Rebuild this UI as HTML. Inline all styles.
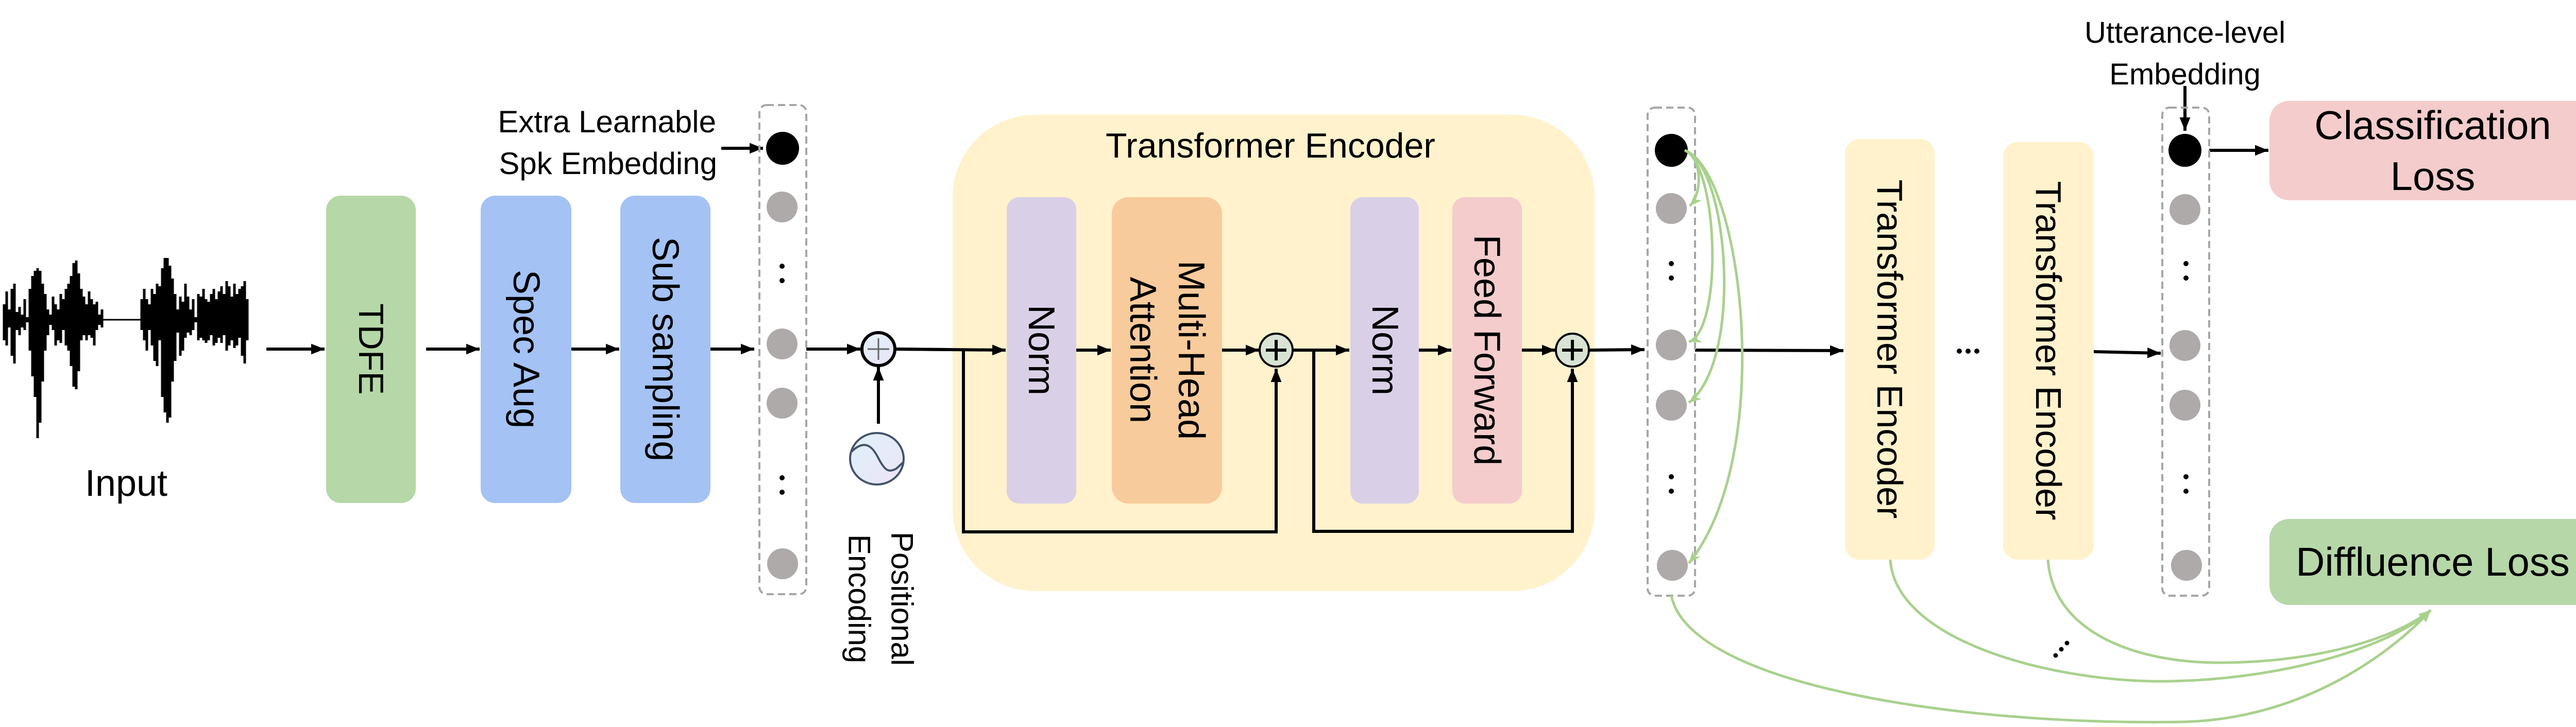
<!DOCTYPE html>
<html><head><meta charset="utf-8"><style>
html,body{margin:0;padding:0;background:#fff;}
svg{display:block;}
text{font-family:"Liberation Sans",sans-serif;fill:#000;}
</style></head><body>
<svg width="5038" height="1412" viewBox="0 0 5038 1412" xmlns="http://www.w3.org/2000/svg">
<defs>
<marker id="ah" markerWidth="10" markerHeight="10" refX="9" refY="5" orient="auto" markerUnits="userSpaceOnUse" viewBox="0 0 10 10" style="overflow:visible">
</marker>
<marker id="a" viewBox="0 0 10 10" refX="10" refY="5" markerWidth="26" markerHeight="26" markerUnits="userSpaceOnUse" orient="auto"><path d="M0 1 L10 5 L0 9 z" fill="#000"/></marker>
<marker id="g" viewBox="0 0 10 10" refX="10" refY="5" markerWidth="24" markerHeight="24" markerUnits="userSpaceOnUse" orient="auto"><path d="M0 1 L10 5 L0 9 L3 5 z" fill="#a9d18e"/></marker>
<linearGradient id="pg" x1="0" y1="0" x2="1" y2="1"><stop offset="0" stop-color="#dff2fb"/><stop offset="1" stop-color="#ece3f7"/></linearGradient>
</defs>

<!-- waveform -->
<line x1="6" y1="621" x2="482" y2="621" stroke="#000" stroke-width="3"/>
<path stroke="#000" stroke-width="5" fill="none" d="
M8 591V661 M13 566V671 M18 601V636 M23 561V691 M28 551V706 M33 606V641 M38 596V651 M43 611V636 M48 581V641 M53 616V626
M58 561V681 M63 536V731 M68 526V771 M73 521V851 M78 526V821 M83 551V741 M88 571V681 M93 601V651 M98 611V631
M103 576V641 M108 591V671 M113 601V661 M118 571V666 M123 581V641 M128 561V671 M133 551V681 M138 536V711 M143 511V751 M148 506V756 M153 531V721 M158 561V661 M163 576V651 M168 591V661 M173 566V651 M178 581V656 M183 591V671 M188 586V641 M193 611V631 M198 601V636
M275 581V641 M280 561V661 M285 581V681 M290 591V641 M295 561V671 M300 571V701 M305 551V711 M310 556V661 M315 521V771 M320 501V801 M325 501V821 M330 516V811 M335 541V741 M340 571V701 M345 601V646 M350 576V691 M355 586V681 M360 551V656 M365 576V646 M370 601V651 M375 581V641 M380 616V626
M385 571V661 M390 576V656 M395 561V661 M400 581V666 M405 586V661 M410 571V651 M415 561V671 M420 581V666 M425 566V656 M430 556V666 M435 571V651 M440 546V681 M445 556V671 M450 576V661 M455 551V676 M460 571V671 M465 561V656 M470 556V691 M475 546V706 M480 581V661"/>
<text x="245" y="963" font-size="72" text-anchor="middle">Input</text>

<!-- arrows left chain -->
<g stroke="#000" stroke-width="6" fill="none" marker-end="url(#a)">
<line x1="517" y1="678" x2="630" y2="678"/>
<line x1="827" y1="678" x2="931" y2="678"/>
<line x1="1109" y1="678" x2="1202" y2="678"/>
<line x1="1379" y1="678" x2="1464" y2="678"/>
<line x1="1565" y1="678" x2="1670" y2="678"/>
<line x1="1705" y1="823" x2="1705" y2="713"/>
<line x1="1400" y1="288" x2="1481" y2="288"/>
</g>

<rect x="633" y="380" width="174" height="597" rx="28" fill="#b6d7a8"/>
<text transform="translate(720,678) rotate(90)" font-size="68" text-anchor="middle" dominant-baseline="central">TDFE</text>
<rect x="933" y="380" width="176" height="597" rx="28" fill="#a4c2f4"/>
<text transform="translate(1021,678) rotate(90)" font-size="72" text-anchor="middle" dominant-baseline="central">Spec Aug</text>
<rect x="1204" y="380" width="175" height="597" rx="28" fill="#a4c2f4"/>
<text transform="translate(1291,678) rotate(90)" font-size="72" text-anchor="middle" dominant-baseline="central">Sub sampling</text>

<text x="1390" y="257" font-size="60" text-anchor="end">Extra Learnable</text>
<text x="1392" y="338" font-size="60" text-anchor="end">Spk Embedding</text>

<!-- column 1 -->
<rect x="1474" y="204" width="91" height="950" rx="14" fill="none" stroke="#a6a6a6" stroke-width="4" stroke-dasharray="14 8"/>
<circle cx="1519" cy="288" r="32" fill="#000"/>
<g fill="#aeaaaa"><circle cx="1518" cy="402" r="30"/><circle cx="1518" cy="668" r="30"/><circle cx="1518" cy="783" r="30"/><circle cx="1519" cy="1095" r="30"/></g>
<g fill="#000"><circle cx="1518" cy="517" r="5"/><circle cx="1518" cy="545" r="5"/><circle cx="1518" cy="928" r="5"/><circle cx="1518" cy="956" r="5"/></g>

<!-- plus and sine -->
<line x1="1738" y1="678" x2="1952" y2="680" stroke="#000" stroke-width="6" marker-end="url(#a)"/>
<circle cx="1705" cy="678" r="32" fill="url(#pg)" stroke="#000" stroke-width="6"/>
<path d="M1684 678H1726M1705 657V699" stroke="#666" stroke-width="3"/>
<ellipse cx="1702" cy="891" rx="52" ry="50" fill="url(#pg)" stroke="#44546a" stroke-width="4"/>
<path d="M1652 878 C1680 850,1695 870,1705 890 C1718 915,1725 918,1740 910 L1753 898" fill="none" stroke="#44546a" stroke-width="4"/>
<text transform="translate(1751,1163) rotate(90)" font-size="60" text-anchor="middle" dominant-baseline="central">Positional</text>
<text transform="translate(1668,1163) rotate(90)" font-size="60" text-anchor="middle" dominant-baseline="central">Encoding</text>

<!-- transformer encoder -->
<rect x="1849" y="223" width="1246" height="925" rx="160" fill="#fff2cc"/>
<text x="2466" y="306" font-size="68" text-anchor="middle">Transformer Encoder</text>
<line x1="1738" y1="678" x2="1952" y2="680" stroke="#000" stroke-width="6" marker-end="url(#a)"/>
<rect x="1954" y="383" width="135" height="595" rx="24" fill="#d9d0e8"/>
<text transform="translate(2021,680) rotate(90)" font-size="72" text-anchor="middle" dominant-baseline="central">Norm</text>
<rect x="2158" y="383" width="214" height="595" rx="32" fill="#f8cb9c"/>
<text transform="translate(2312,680) rotate(90)" font-size="72" text-anchor="middle" dominant-baseline="central">Multi-Head</text>
<text transform="translate(2218,680) rotate(90)" font-size="72" text-anchor="middle" dominant-baseline="central">Attention</text>
<rect x="2621" y="383" width="133" height="595" rx="24" fill="#d9d0e8"/>
<text transform="translate(2688,680) rotate(90)" font-size="72" text-anchor="middle" dominant-baseline="central">Norm</text>
<rect x="2819" y="383" width="135" height="595" rx="24" fill="#f4cccc"/>
<text transform="translate(2886,680) rotate(90)" font-size="72" text-anchor="middle" dominant-baseline="central">Feed Forward</text>

<g stroke="#000" stroke-width="6" fill="none">
<path d="M1870 680 V1033 H2477 V716" marker-end="url(#a)"/>
<path d="M2550 680 V1032 H3052 V716" marker-end="url(#a)"/>
<line x1="2089" y1="680" x2="2156" y2="680" marker-end="url(#a)"/>
<line x1="2372" y1="680" x2="2444" y2="680" marker-end="url(#a)"/>
<line x1="2510" y1="680" x2="2619" y2="680" marker-end="url(#a)"/>
<line x1="2754" y1="680" x2="2817" y2="680" marker-end="url(#a)"/>
<line x1="2954" y1="680" x2="3019" y2="680" marker-end="url(#a)"/>
<line x1="3085" y1="680" x2="3192" y2="679" marker-end="url(#a)"/>
<line x1="3290" y1="680" x2="3578" y2="681" marker-end="url(#a)"/>
<line x1="4064" y1="683" x2="4194" y2="686" marker-end="url(#a)"/>
<line x1="4288" y1="292" x2="4403" y2="292" marker-end="url(#a)"/>
<line x1="4241" y1="167" x2="4241" y2="254" marker-end="url(#a)"/>
</g>
<circle cx="2477" cy="680" r="32" fill="#d9e3d3" stroke="#000" stroke-width="4"/>
<path d="M2457 680H2497M2477 660V700" stroke="#000" stroke-width="6"/>
<circle cx="3052" cy="680" r="32" fill="#d9e3d3" stroke="#000" stroke-width="4"/>
<path d="M3032 680H3072M3052 660V700" stroke="#000" stroke-width="6"/>

<!-- column 2 -->
<rect x="3198" y="209" width="92" height="948" rx="14" fill="none" stroke="#a6a6a6" stroke-width="4" stroke-dasharray="14 8"/>
<circle cx="3244" cy="292" r="32" fill="#000"/>
<g fill="#aeaaaa"><circle cx="3244" cy="405" r="30"/><circle cx="3244" cy="670" r="30"/><circle cx="3244" cy="787" r="30"/><circle cx="3246" cy="1098" r="30"/></g>
<g fill="#000"><circle cx="3244" cy="512" r="5"/><circle cx="3244" cy="540" r="5"/><circle cx="3244" cy="926" r="5"/><circle cx="3244" cy="954" r="5"/></g>
<g stroke="#a9d18e" stroke-width="5" fill="none" marker-end="url(#g)">
<path d="M3270 292 C3300 300,3308 370,3280 400"/>
<path d="M3270 292 C3335 320,3345 640,3278 664"/>
<path d="M3270 292 C3355 320,3385 700,3278 782"/>
<path d="M3270 292 C3380 330,3450 880,3278 1094"/>
</g>

<!-- encoders 2 -->
<rect x="3581" y="270" width="174" height="817" rx="28" fill="#fff2cc"/>
<text transform="translate(3668,678) rotate(90)" font-size="70" text-anchor="middle" dominant-baseline="central">Transformer Encoder</text>
<g fill="#000"><circle cx="3803" cy="682" r="5"/><circle cx="3820" cy="682" r="5"/><circle cx="3837" cy="682" r="5"/></g>
<rect x="3888" y="276" width="176" height="811" rx="28" fill="#fff2cc"/>
<text transform="translate(3976,681) rotate(90)" font-size="70" text-anchor="middle" dominant-baseline="central">Transformer Encoder</text>

<!-- column 3 -->
<text x="4241" y="83" font-size="58" text-anchor="middle">Utterance-level</text>
<text x="4241" y="164" font-size="58" text-anchor="middle">Embedding</text>
<rect x="4197" y="209" width="91" height="948" rx="14" fill="none" stroke="#a6a6a6" stroke-width="4" stroke-dasharray="14 8"/>
<circle cx="4241" cy="292" r="32" fill="#000"/>
<g fill="#aeaaaa"><circle cx="4241" cy="407" r="30"/><circle cx="4241" cy="671" r="30"/><circle cx="4241" cy="787" r="30"/><circle cx="4244" cy="1098" r="30"/></g>
<g fill="#000"><circle cx="4243" cy="512" r="5"/><circle cx="4243" cy="540" r="5"/><circle cx="4243" cy="926" r="5"/><circle cx="4243" cy="954" r="5"/></g>

<rect x="4405" y="196" width="645" height="193" rx="38" fill="#f4cccc"/>
<text x="4722" y="270" font-size="78" text-anchor="middle">Classification</text>
<text x="4722" y="369" font-size="78" text-anchor="middle">Loss</text>
<rect x="4405" y="1008" width="645" height="167" rx="38" fill="#b6d7a8"/>
<text x="4722" y="1118" font-size="78" text-anchor="middle">Diffluence Loss</text>

<!-- green bottom curves -->
<g stroke="#a9d18e" stroke-width="5" fill="none">
<path d="M3244 1157 C3280 1330,3800 1410,4240 1402 C4480 1395,4650 1260,4718 1185" marker-end="url(#g)"/>
<path d="M3669 1087 C3680 1250,4000 1328,4215 1323 C4450 1318,4650 1250,4718 1185" marker-end="url(#g)"/>
<path d="M3975 1087 C3985 1230,4150 1290,4320 1287 C4500 1285,4650 1240,4718 1185" marker-end="url(#g)"/>
</g>
<g fill="#000"><circle cx="3990" cy="1273" r="4.5"/><circle cx="4001" cy="1261" r="4.5"/><circle cx="4012" cy="1249" r="4.5"/></g>
</svg>
</body></html>
